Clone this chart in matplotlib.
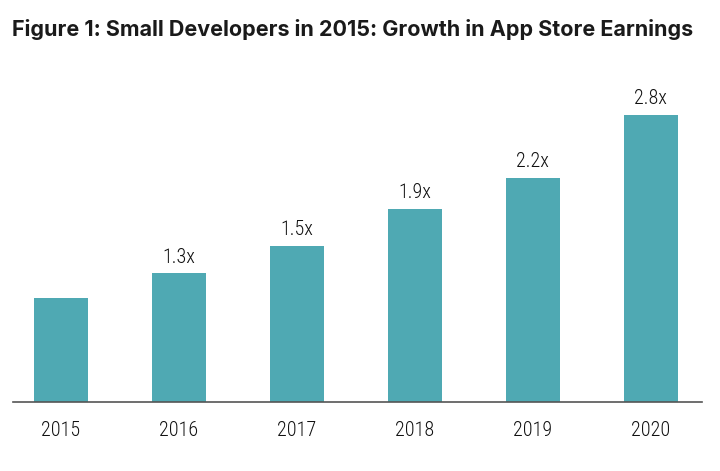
import matplotlib
matplotlib.use("Agg")
import matplotlib.pyplot as plt

years = ["2015", "2016", "2017", "2018", "2019", "2020"]
growth = [1.0, 1.23, 1.49, 1.85, 2.14, 2.75]
labels = ["", "1.3x", "1.5x", "1.9x", "2.2x", "2.8x"]

title = "Figure 1: Small Developers in 2015: Growth in App Store Earnings"
bar_color = "#4fa9b3"
label_font = ["Roboto Condensed", "DejaVu Sans"]
title_font = ["Inter", "DejaVu Sans"]

fig = plt.figure(figsize=(7.2, 4.71), dpi=100)
ax = fig.add_axes([13/720, (471-402)/471, 689/720, (402-40)/471])
x = list(range(len(years)))
ax.bar(x, growth, width=0.458, color=bar_color, zorder=2)
ax.set_xlim(-0.407, 5.436)
ax.set_ylim(0, (402-40)/104.5)

for xi, v, lab in zip(x, growth, labels):
    if lab:
        ax.annotate(lab, (xi, v), xytext=(0, 5), textcoords="offset points",
                    ha="center", va="bottom", fontsize=14.5, fontweight="light",
                    family=label_font, color="#111111")

for s in ["top", "right", "left"]:
    ax.spines[s].set_visible(False)
ax.spines["bottom"].set_color("#555555")
ax.spines["bottom"].set_linewidth(1.2)
ax.set_yticks([])
ax.set_xticks(x)
ax.set_xticklabels(years, family=label_font, fontsize=14.5, fontweight="light",
                   color="#111111")
ax.tick_params(axis="x", length=0, pad=14)

fig.text(12/720, 1 - 30/471, title, ha="left", va="center", fontsize=15.5,
         fontweight="bold", family=title_font, color="#1a1a1a")

fig.savefig("out.png", dpi=100)
